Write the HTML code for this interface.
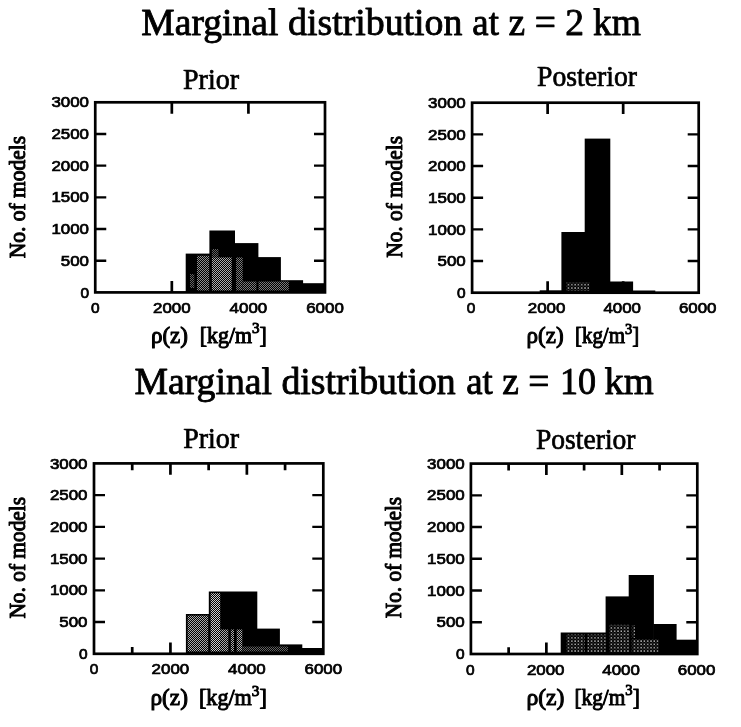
<!DOCTYPE html>
<html lang="en"><head><meta charset="utf-8"><title>Marginal distributions</title>
<style>html,body{margin:0;padding:0;background:#fff}svg{display:block}.t{font-family:"Liberation Serif",serif;fill:#000;stroke:#000;stroke-width:0.7px;stroke-linejoin:round}.a{stroke-width:1px}.n{font-family:"Liberation Sans",sans-serif;fill:#000;font-size:14.3px;stroke:#000;stroke-width:0.7px}</style></head><body>
<svg width="741" height="727" viewBox="0 0 741 727">
<defs>
<pattern id="sa" width="2" height="2" patternUnits="userSpaceOnUse"><rect width="2" height="2" fill="#000"/><rect x="0" y="0" width="0.9" height="0.9" fill="#fff"/><rect x="1" y="1" width="0.9" height="0.9" fill="#fff"/></pattern>
<pattern id="sb" width="2" height="2" patternUnits="userSpaceOnUse"><rect width="2" height="2" fill="#000"/><rect x="0" y="0" width="0.8" height="0.8" fill="#fff"/><rect x="1" y="1" width="0.8" height="0.8" fill="#fff"/></pattern>
<pattern id="sc" width="2" height="2" patternUnits="userSpaceOnUse"><rect width="2" height="2" fill="#000"/><rect x="0" y="0" width="0.62" height="0.62" fill="#fff"/><rect x="1" y="1" width="0.62" height="0.62" fill="#fff"/></pattern>
<pattern id="p75" width="2" height="2" patternUnits="userSpaceOnUse"><rect width="2" height="2" fill="#000"/><rect x="0" y="0" width="0.75" height="0.75" fill="#fff"/><rect x="1" y="1" width="0.75" height="0.75" fill="#fff"/></pattern>
<pattern id="p82" width="2" height="2" patternUnits="userSpaceOnUse"><rect width="2" height="2" fill="#000"/><rect x="0" y="0" width="0.82" height="0.82" fill="#fff"/><rect x="1" y="1" width="0.82" height="0.82" fill="#fff"/></pattern>
<pattern id="p70" width="2" height="2" patternUnits="userSpaceOnUse"><rect width="2" height="2" fill="#000"/><rect x="0" y="0" width="0.7" height="0.7" fill="#fff"/><rect x="1" y="1" width="0.7" height="0.7" fill="#fff"/></pattern>
<pattern id="sd" width="3.3" height="3.3" patternUnits="userSpaceOnUse"><rect width="3.3" height="3.3" fill="#000"/><rect x="0.3" y="0.3" width="1.25" height="1.2" fill="#fff"/><rect x="2" y="2" width="0.9" height="0.9" fill="#777"/></pattern>
</defs>
<rect width="741" height="727" fill="#fff"/>
<text class="t" y="34.7" font-size="37.5" style="stroke-width:0.85px"><tspan x="141.35" textLength="136.97" lengthAdjust="spacingAndGlyphs">Marginal</tspan> <tspan x="288.06" textLength="174.39" lengthAdjust="spacingAndGlyphs">distribution</tspan> <tspan x="472.33" textLength="26.56" lengthAdjust="spacingAndGlyphs">at</tspan> <tspan x="508.60" textLength="16.64" lengthAdjust="spacingAndGlyphs">z</tspan> <tspan x="534.71" textLength="21.15" lengthAdjust="spacingAndGlyphs">=</tspan> <tspan x="565.19" textLength="18.75" lengthAdjust="spacingAndGlyphs">2</tspan> <tspan x="592.91" textLength="47.95" lengthAdjust="spacingAndGlyphs">km</tspan></text>
<text class="t" y="394.3" font-size="37.5" style="stroke-width:0.85px"><tspan x="134.44" textLength="137.58" lengthAdjust="spacingAndGlyphs">Marginal</tspan> <tspan x="281.46" textLength="174.29" lengthAdjust="spacingAndGlyphs">distribution</tspan> <tspan x="466.13" textLength="26.56" lengthAdjust="spacingAndGlyphs">at</tspan> <tspan x="502.30" textLength="16.64" lengthAdjust="spacingAndGlyphs">z</tspan> <tspan x="528.31" textLength="21.15" lengthAdjust="spacingAndGlyphs">=</tspan> <tspan x="559.95" textLength="36.10" lengthAdjust="spacingAndGlyphs">10</tspan> <tspan x="604.49" textLength="49.29" lengthAdjust="spacingAndGlyphs">km</tspan></text>
<text class="t" x="183" y="88.5" font-size="29" textLength="56" lengthAdjust="spacingAndGlyphs">Prior</text>
<text class="t" x="537" y="86.4" font-size="29" textLength="100" lengthAdjust="spacingAndGlyphs">Posterior</text>
<text class="t" x="183.2" y="448.3" font-size="29" textLength="56" lengthAdjust="spacingAndGlyphs">Prior</text>
<text class="t" x="536" y="448.6" font-size="29" textLength="99.5" lengthAdjust="spacingAndGlyphs">Posterior</text>
<path d="M95.25 260.72h11M325.0 260.72h-11" stroke="#000" stroke-width="2.4" fill="none"/>
<path d="M95.25 229.03h11M325.0 229.03h-11" stroke="#000" stroke-width="2.4" fill="none"/>
<path d="M95.25 197.35h11M325.0 197.35h-11" stroke="#000" stroke-width="2.4" fill="none"/>
<path d="M95.25 165.67h11M325.0 165.67h-11" stroke="#000" stroke-width="2.4" fill="none"/>
<path d="M95.25 133.98h11M325.0 133.98h-11" stroke="#000" stroke-width="2.4" fill="none"/>
<path d="M171.83 102.3v11.4M171.83 292.4v-11.4" stroke="#000" stroke-width="2.7" fill="none"/>
<path d="M248.42 102.3v11.4M248.42 292.4v-11.4" stroke="#000" stroke-width="2.7" fill="none"/>
<rect x="185.70" y="253.6" width="24.30" height="38.80" fill="#000"/>
<rect x="209.40" y="230.5" width="25.60" height="61.90" fill="#000"/>
<rect x="234.40" y="243.1" width="24.00" height="49.30" fill="#000"/>
<rect x="257.80" y="257.1" width="23.10" height="35.30" fill="#000"/>
<rect x="280.30" y="280.2" width="22.80" height="12.20" fill="#000"/>
<rect x="302.50" y="283.2" width="22.80" height="9.20" fill="#000"/>
<rect x="197.00" y="255.8" width="12.20" height="34.70" fill="url(#p75)"/>
<rect x="190.00" y="274" width="4.30" height="14.00" fill="url(#sc)"/>
<rect x="211.90" y="249" width="6.60" height="8.40" fill="url(#sc)"/>
<rect x="211.90" y="257.4" width="19.80" height="33.10" fill="url(#p82)"/>
<rect x="236.10" y="257.4" width="6.60" height="33.10" fill="url(#p70)"/>
<rect x="242.70" y="281.5" width="13.70" height="9.00" fill="url(#p70)"/>
<rect x="258.50" y="281.5" width="30.30" height="9.00" fill="url(#p70)"/>
<rect x="95.25" y="102.3" width="229.75" height="190.09999999999997" fill="none" stroke="#000" stroke-width="2.7"/>
<text class="n" x="80.4" y="297.5" textLength="8.6" lengthAdjust="spacingAndGlyphs">0</text>
<text class="n" x="60.8" y="265.8" textLength="28.2" lengthAdjust="spacingAndGlyphs">500</text>
<text class="n" x="51.4" y="234.1" textLength="37.6" lengthAdjust="spacingAndGlyphs">1000</text>
<text class="n" x="51.4" y="202.4" textLength="37.6" lengthAdjust="spacingAndGlyphs">1500</text>
<text class="n" x="51.4" y="170.8" textLength="37.6" lengthAdjust="spacingAndGlyphs">2000</text>
<text class="n" x="51.4" y="139.1" textLength="37.6" lengthAdjust="spacingAndGlyphs">2500</text>
<text class="n" x="51.4" y="107.4" textLength="37.6" lengthAdjust="spacingAndGlyphs">3000</text>
<text class="n" x="91.0" y="312.7" textLength="8.6" lengthAdjust="spacingAndGlyphs">0</text>
<text class="n" x="153.0" y="312.7" textLength="37.6" lengthAdjust="spacingAndGlyphs">2000</text>
<text class="n" x="229.6" y="312.7" textLength="37.6" lengthAdjust="spacingAndGlyphs">4000</text>
<text class="n" x="306.2" y="312.7" textLength="37.6" lengthAdjust="spacingAndGlyphs">6000</text>
<text class="t a" font-size="22.5" transform="translate(25.0 258.3) rotate(-90)" textLength="122.30000000000001" lengthAdjust="spacingAndGlyphs">No. of models</text>
<text class="t a" font-size="22.5" x="150.91" y="342.6" textLength="37.1" lengthAdjust="spacingAndGlyphs">ρ(z)</text>
<text class="t a" font-size="22.5" x="199.78" y="342.6" textLength="67.05" lengthAdjust="spacingAndGlyphs">[kg/m<tspan font-size="15.5" dy="-9.8">3</tspan><tspan dy="9.8">]</tspan></text>
<path d="M472.1 261.03h11M698.7 261.03h-11" stroke="#000" stroke-width="2.4" fill="none"/>
<path d="M472.1 229.37h11M698.7 229.37h-11" stroke="#000" stroke-width="2.4" fill="none"/>
<path d="M472.1 197.70h11M698.7 197.70h-11" stroke="#000" stroke-width="2.4" fill="none"/>
<path d="M472.1 166.03h11M698.7 166.03h-11" stroke="#000" stroke-width="2.4" fill="none"/>
<path d="M472.1 134.37h11M698.7 134.37h-11" stroke="#000" stroke-width="2.4" fill="none"/>
<path d="M547.63 102.7v11.4M547.63 292.7v-11.4" stroke="#000" stroke-width="2.7" fill="none"/>
<path d="M623.17 102.7v11.4M623.17 292.7v-11.4" stroke="#000" stroke-width="2.7" fill="none"/>
<rect x="539.70" y="290.3" width="22.30" height="2.40" fill="#000"/>
<rect x="561.40" y="232" width="23.90" height="60.70" fill="#000"/>
<rect x="584.70" y="138.6" width="25.60" height="154.10" fill="#000"/>
<rect x="609.70" y="281.5" width="23.40" height="11.20" fill="#000"/>
<rect x="632.50" y="290.5" width="22.80" height="2.20" fill="#000"/>
<rect x="566.00" y="282" width="23.50" height="8.80" fill="url(#sd)"/>
<rect x="472.1" y="102.7" width="226.60000000000002" height="190.0" fill="none" stroke="#000" stroke-width="2.7"/>
<text class="n" x="457.1" y="297.8" textLength="8.6" lengthAdjust="spacingAndGlyphs">0</text>
<text class="n" x="437.5" y="266.1" textLength="28.2" lengthAdjust="spacingAndGlyphs">500</text>
<text class="n" x="428.1" y="234.5" textLength="37.6" lengthAdjust="spacingAndGlyphs">1000</text>
<text class="n" x="428.1" y="202.8" textLength="37.6" lengthAdjust="spacingAndGlyphs">1500</text>
<text class="n" x="428.1" y="171.1" textLength="37.6" lengthAdjust="spacingAndGlyphs">2000</text>
<text class="n" x="428.1" y="139.5" textLength="37.6" lengthAdjust="spacingAndGlyphs">2500</text>
<text class="n" x="428.1" y="107.8" textLength="37.6" lengthAdjust="spacingAndGlyphs">3000</text>
<text class="n" x="466.8" y="313.3" textLength="8.6" lengthAdjust="spacingAndGlyphs">0</text>
<text class="n" x="527.8" y="313.3" textLength="37.6" lengthAdjust="spacingAndGlyphs">2000</text>
<text class="n" x="603.4" y="313.3" textLength="37.6" lengthAdjust="spacingAndGlyphs">4000</text>
<text class="n" x="678.9" y="313.3" textLength="37.6" lengthAdjust="spacingAndGlyphs">6000</text>
<text class="t a" font-size="22.5" transform="translate(402 257.8) rotate(-90)" textLength="121.80000000000001" lengthAdjust="spacingAndGlyphs">No. of models</text>
<text class="t a" font-size="22.5" x="526.51" y="343.4" textLength="37.1" lengthAdjust="spacingAndGlyphs">ρ(z)</text>
<text class="t a" font-size="22.5" x="574.95" y="343.4" textLength="64.21" lengthAdjust="spacingAndGlyphs">[kg/m<tspan font-size="15.5" dy="-9.8">3</tspan><tspan dy="9.8">]</tspan></text>
<path d="M94.0 622.07h11M323.3 622.07h-11" stroke="#000" stroke-width="2.4" fill="none"/>
<path d="M94.0 590.33h11M323.3 590.33h-11" stroke="#000" stroke-width="2.4" fill="none"/>
<path d="M94.0 558.60h11M323.3 558.60h-11" stroke="#000" stroke-width="2.4" fill="none"/>
<path d="M94.0 526.87h11M323.3 526.87h-11" stroke="#000" stroke-width="2.4" fill="none"/>
<path d="M94.0 495.13h11M323.3 495.13h-11" stroke="#000" stroke-width="2.4" fill="none"/>
<path d="M132.22 463.4v6.8M132.22 653.8v-6.8" stroke="#000" stroke-width="2.7" fill="none"/>
<path d="M170.43 463.4v11.4M170.43 653.8v-11.4" stroke="#000" stroke-width="2.7" fill="none"/>
<path d="M208.65 463.4v6.8M208.65 653.8v-6.8" stroke="#000" stroke-width="2.7" fill="none"/>
<path d="M246.87 463.4v11.4M246.87 653.8v-11.4" stroke="#000" stroke-width="2.7" fill="none"/>
<path d="M285.08 463.4v6.8M285.08 653.8v-6.8" stroke="#000" stroke-width="2.7" fill="none"/>
<rect x="185.90" y="614" width="23.90" height="39.80" fill="#000"/>
<rect x="208.80" y="591.5" width="48.50" height="62.30" fill="#000"/>
<rect x="242.00" y="628.6" width="37.90" height="25.20" fill="#000"/>
<rect x="279.30" y="644.4" width="23.00" height="9.40" fill="#000"/>
<rect x="301.70" y="648" width="21.90" height="5.80" fill="#000"/>
<rect x="187.60" y="615.6" width="20.60" height="35.90" fill="url(#p82)"/>
<rect x="210.60" y="593.2" width="9.60" height="58.30" fill="url(#sa)"/>
<rect x="220.20" y="629.5" width="22.10" height="22.00" fill="url(#p82)"/>
<rect x="242.30" y="646.5" width="45.70" height="5.00" fill="url(#sc)"/>
<rect x="228.30" y="628" width="2.50" height="24.00" fill="#000"/>
<rect x="234.00" y="628" width="2.70" height="24.00" fill="#000"/>
<rect x="94.0" y="463.4" width="229.3" height="190.39999999999998" fill="none" stroke="#000" stroke-width="2.7"/>
<text class="n" x="78.9" y="658.9" textLength="8.6" lengthAdjust="spacingAndGlyphs">0</text>
<text class="n" x="59.3" y="627.2" textLength="28.2" lengthAdjust="spacingAndGlyphs">500</text>
<text class="n" x="49.9" y="595.4" textLength="37.6" lengthAdjust="spacingAndGlyphs">1000</text>
<text class="n" x="49.9" y="563.7" textLength="37.6" lengthAdjust="spacingAndGlyphs">1500</text>
<text class="n" x="49.9" y="532.0" textLength="37.6" lengthAdjust="spacingAndGlyphs">2000</text>
<text class="n" x="49.9" y="500.2" textLength="37.6" lengthAdjust="spacingAndGlyphs">2500</text>
<text class="n" x="49.9" y="468.5" textLength="37.6" lengthAdjust="spacingAndGlyphs">3000</text>
<text class="n" x="89.7" y="674.2" textLength="8.6" lengthAdjust="spacingAndGlyphs">0</text>
<text class="n" x="151.6" y="674.2" textLength="37.6" lengthAdjust="spacingAndGlyphs">2000</text>
<text class="n" x="228.1" y="674.2" textLength="37.6" lengthAdjust="spacingAndGlyphs">4000</text>
<text class="n" x="304.5" y="674.2" textLength="37.6" lengthAdjust="spacingAndGlyphs">6000</text>
<text class="t a" font-size="22.5" transform="translate(25.2 618.6) rotate(-90)" textLength="121.70000000000005" lengthAdjust="spacingAndGlyphs">No. of models</text>
<text class="t a" font-size="22.5" x="150.5" y="705.3" textLength="37.42" lengthAdjust="spacingAndGlyphs">ρ(z)</text>
<text class="t a" font-size="22.5" x="198.96" y="705.3" textLength="67.89" lengthAdjust="spacingAndGlyphs">[kg/m<tspan font-size="15.5" dy="-9.8">3</tspan><tspan dy="9.8">]</tspan></text>
<path d="M470.9 622.27h11M697.3 622.27h-11" stroke="#000" stroke-width="2.4" fill="none"/>
<path d="M470.9 590.53h11M697.3 590.53h-11" stroke="#000" stroke-width="2.4" fill="none"/>
<path d="M470.9 558.80h11M697.3 558.80h-11" stroke="#000" stroke-width="2.4" fill="none"/>
<path d="M470.9 527.07h11M697.3 527.07h-11" stroke="#000" stroke-width="2.4" fill="none"/>
<path d="M470.9 495.33h11M697.3 495.33h-11" stroke="#000" stroke-width="2.4" fill="none"/>
<path d="M508.63 463.6v6.8M508.63 654.0v-6.8" stroke="#000" stroke-width="2.7" fill="none"/>
<path d="M546.37 463.6v11.4M546.37 654.0v-11.4" stroke="#000" stroke-width="2.7" fill="none"/>
<path d="M584.10 463.6v6.8M584.10 654.0v-6.8" stroke="#000" stroke-width="2.7" fill="none"/>
<path d="M621.83 463.6v11.4M621.83 654.0v-11.4" stroke="#000" stroke-width="2.7" fill="none"/>
<path d="M659.57 463.6v6.8M659.57 654.0v-6.8" stroke="#000" stroke-width="2.7" fill="none"/>
<rect x="560.70" y="632.5" width="45.50" height="21.50" fill="#000"/>
<rect x="605.60" y="596.4" width="23.70" height="57.60" fill="#000"/>
<rect x="628.70" y="575" width="25.20" height="79.00" fill="#000"/>
<rect x="653.30" y="624" width="23.30" height="30.00" fill="#000"/>
<rect x="676.00" y="639.7" width="21.60" height="14.30" fill="#000"/>
<rect x="566.20" y="634.5" width="18.60" height="17.80" fill="url(#sd)"/>
<rect x="587.20" y="634.5" width="18.70" height="17.80" fill="url(#sd)"/>
<rect x="609.10" y="624.8" width="20.30" height="27.50" fill="url(#sd)"/>
<rect x="631.80" y="625" width="3.20" height="13.00" fill="url(#sd)"/>
<rect x="631.80" y="639" width="26.70" height="13.30" fill="url(#sd)"/>
<rect x="470.9" y="463.6" width="226.39999999999998" height="190.39999999999998" fill="none" stroke="#000" stroke-width="2.7"/>
<text class="n" x="456.1" y="659.1" textLength="8.6" lengthAdjust="spacingAndGlyphs">0</text>
<text class="n" x="436.5" y="627.4" textLength="28.2" lengthAdjust="spacingAndGlyphs">500</text>
<text class="n" x="427.1" y="595.6" textLength="37.6" lengthAdjust="spacingAndGlyphs">1000</text>
<text class="n" x="427.1" y="563.9" textLength="37.6" lengthAdjust="spacingAndGlyphs">1500</text>
<text class="n" x="427.1" y="532.2" textLength="37.6" lengthAdjust="spacingAndGlyphs">2000</text>
<text class="n" x="427.1" y="500.4" textLength="37.6" lengthAdjust="spacingAndGlyphs">2500</text>
<text class="n" x="427.1" y="468.7" textLength="37.6" lengthAdjust="spacingAndGlyphs">3000</text>
<text class="n" x="465.9" y="674.6" textLength="8.6" lengthAdjust="spacingAndGlyphs">0</text>
<text class="n" x="526.9" y="674.6" textLength="37.6" lengthAdjust="spacingAndGlyphs">2000</text>
<text class="n" x="602.3" y="674.6" textLength="37.6" lengthAdjust="spacingAndGlyphs">4000</text>
<text class="n" x="677.8" y="674.6" textLength="37.6" lengthAdjust="spacingAndGlyphs">6000</text>
<text class="t a" font-size="22.5" transform="translate(401.4 618.2) rotate(-90)" textLength="121.30000000000007" lengthAdjust="spacingAndGlyphs">No. of models</text>
<text class="t a" font-size="22.5" x="526.48" y="704.8" textLength="37.96" lengthAdjust="spacingAndGlyphs">ρ(z)</text>
<text class="t a" font-size="22.5" x="574.42" y="704.8" textLength="65.36" lengthAdjust="spacingAndGlyphs">[kg/m<tspan font-size="15.5" dy="-9.8">3</tspan><tspan dy="9.8">]</tspan></text>
</svg></body></html>
